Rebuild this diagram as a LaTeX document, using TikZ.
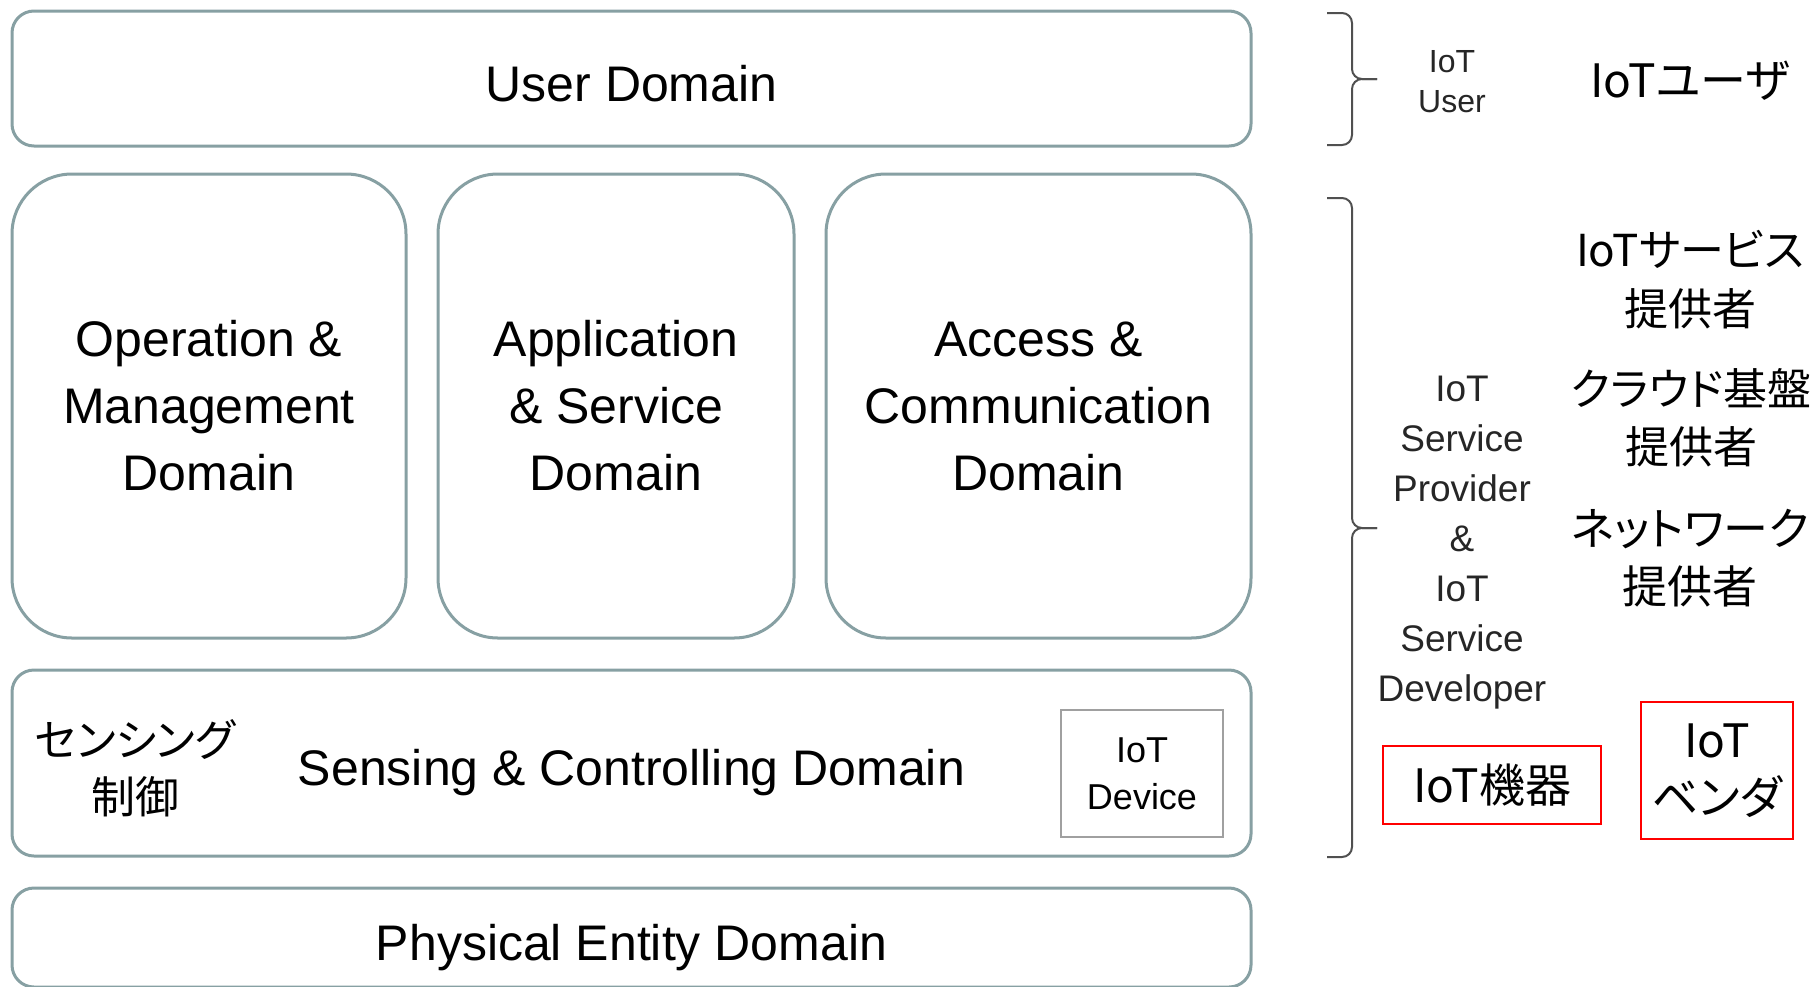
\documentclass[tikz,border=0pt]{standalone}
\usepackage{fontspec}
\setmainfont{Liberation Sans}
\newfontfamily\jpfont[RawFeature=+palt]{Noto Sans CJK JP}
\definecolor{boxline}{RGB}{135,160,163}
\definecolor{bracegray}{RGB}{80,80,80}
\definecolor{devline}{RGB}{160,160,160}
\tikzset{
  domainbox/.style={draw=boxline, line width=3pt, rounded corners=22pt, fill=white, align=center, inner sep=0pt, font=\fontsize{50}{67}\selectfont},
  bigdomainbox/.style={domainbox, rounded corners=60pt},
  oneline/.style={text height=45pt, text depth=0pt},
  devbox/.style={draw=devline, line width=2pt, align=center, inner sep=0pt, font=\fontsize{36}{47}\selectfont},
  rolelabel/.style={align=center, inner sep=0pt, text=black!85},
  jplabel/.style={align=center, inner sep=0pt, font=\jpfont\fontsize{46}{58}\selectfont},
  redbox/.style={jplabel, draw=red, line width=2pt},
  bracket/.style={draw=bracegray, line width=2pt, rounded corners=10pt}
}
\begin{document}
\begin{tikzpicture}[x=1pt, y=-1pt]
                            \useasboundingbox (0,0) rectangle (1812,986);
                            \clip (0,0) rectangle (1812,986);
                            \node[domainbox, oneline, minimum width=1239pt, minimum height=135pt] (user) at (631.5,78.5) {User Domain};
                            \node[bigdomainbox, minimum width=394pt, minimum height=464pt] (opm) at (209,406) {Operation \&\\Management\\Domain};
                            \node[bigdomainbox, minimum width=356pt, minimum height=464pt] (app) at (616,406) {Application\\\& Service\\Domain};
                            \node[bigdomainbox, minimum width=425pt, minimum height=464pt] (acc) at (1038.5,406) {Access \&\\Communication\\Domain};
                            \node[domainbox, oneline, minimum width=1239pt, minimum height=186pt] (sens) at (631.5,763) {Sensing \& Controlling Domain};
                            \node[domainbox, oneline, minimum width=1239pt, minimum height=99pt] (phys) at (631.5,937.5) {Physical Entity Domain};
                            \node[devbox, minimum width=162pt, minimum height=127pt] (dev) at (1142,773.5) {IoT\\Device};
                            \node[jplabel, font=\jpfont\fontsize{44}{57}\selectfont] (sensjp) at (135,768) {センシング\\制御};
                            \draw[bracket] (1327,13) -- (1352,13) -- (1352,79) -- (1377,79);
                            \draw[bracket] (1377,79) -- (1352,79) -- (1352,145) -- (1327,145);
                            \draw[bracket] (1327,198) -- (1352,198) -- (1352,528) -- (1377,528);
                            \draw[bracket] (1377,528) -- (1352,528) -- (1352,857) -- (1327,857);
                            \node[rolelabel, font=\fontsize{32}{40}\selectfont] (iotuser) at (1452,82) {IoT\\User};
                            \node[rolelabel, font=\fontsize{37}{50}\selectfont] (provider) at (1462,543) {IoT\\Service\\Provider\\\&\\IoT\\Service\\Developer};
                            \node[jplabel] (jpuser) at (1690,81) {IoTユーザ};
                            \node[jplabel, font=\jpfont\fontsize{44}{59}\selectfont] (jpsvc) at (1690,280) {IoTサービス\\提供者};
                            \node[jplabel, font=\jpfont\fontsize{44}{58}\selectfont] (jpcloud) at (1691,418) {クラウド基盤\\提供者};
                            \node[jplabel, font=\jpfont\fontsize{45}{58}\selectfont] (jpnet) at (1690,558) {ネットワーク\\提供者};
                            \node[redbox, minimum width=218pt, minimum height=78pt] (kiki) at (1492,785) {IoT機器};
                            \node[redbox, minimum width=152pt, minimum height=137pt, font=\jpfont\fontsize{46}{57}\selectfont] (vendor) at (1717,770.5) {IoT\\ベンダ};
                        \end{tikzpicture}
\end{document}
